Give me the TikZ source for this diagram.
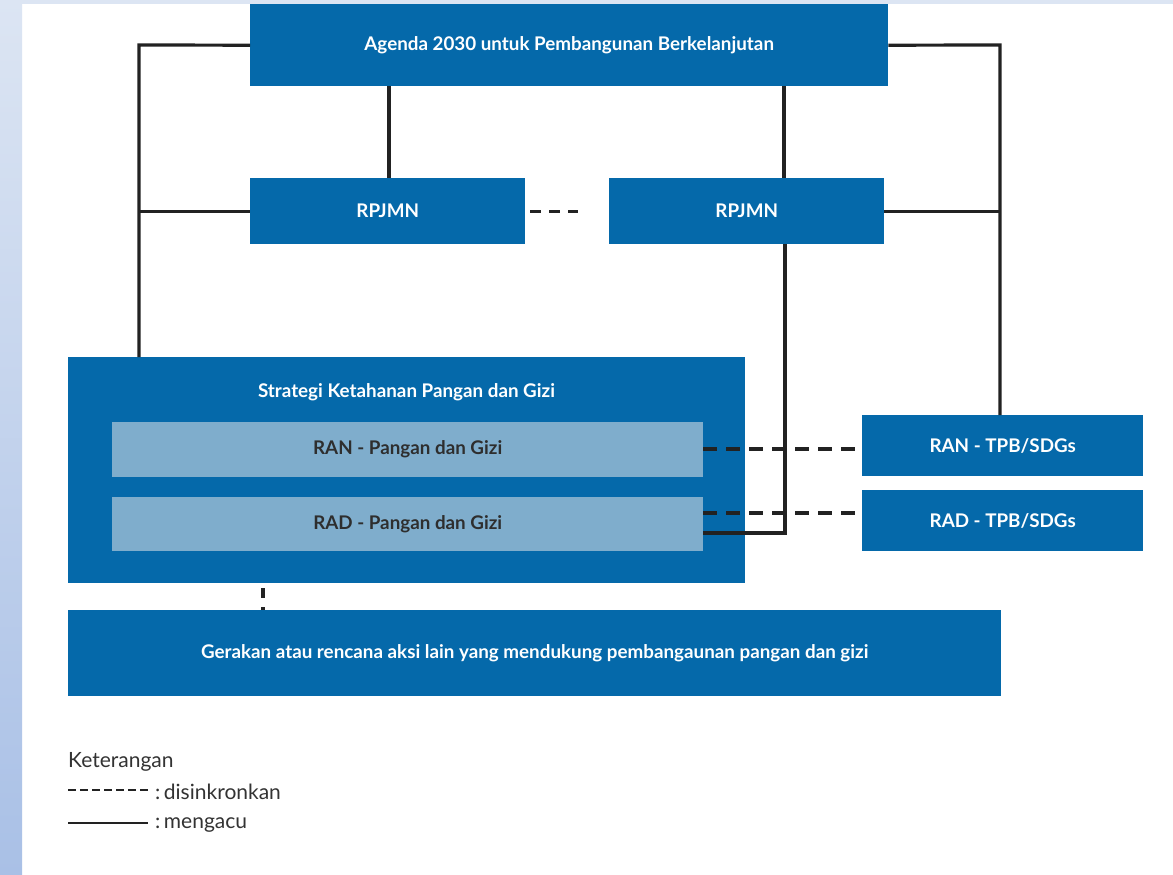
\documentclass[tikz,border=0pt]{standalone}
\usepackage{fontspec}
\setmainfont{Lato}
\usetikzlibrary{calc}
\definecolor{mainblue}{HTML}{0569AA}
\definecolor{paleblue}{HTML}{7FADCC}
\definecolor{inkline}{HTML}{222222}
\definecolor{frametop}{HTML}{DCE5F3}
\definecolor{framebot}{HTML}{A9C0E6}
\tikzset{
  box/.style={fill=mainblue, text=white, font=\fontsize{18.8}{22}\selectfont\bfseries,
    anchor=north west, inner sep=0pt, align=center},
  subbox/.style={fill=paleblue, text=black!82, font=\fontsize{18.8}{22}\selectfont\bfseries,
    anchor=north west, inner sep=0pt, align=center},
  ln/.style={draw=inkline, line width=3.2pt},
  sync/.style={draw=inkline, line width=3.2pt, dash pattern=on 14pt off 9pt},
  legend/.style={anchor=west, inner sep=0pt, font=\fontsize{21}{24}\selectfont, text=black!80}
}
\begin{document}
\begin{tikzpicture}[x=1pt,y=-1pt]
\useasboundingbox (0,0) rectangle (1173,875);
% page background with light frame
\fill[white] (0,0) rectangle (1173,875);
\fill[frametop] (0,0) rectangle (1173,4);
\shade[top color=frametop, bottom color=framebot] (0,0) rectangle (22,875);

% boxes
\node[box, minimum width=638pt, minimum height=82pt] (agenda) at (250,4) {Agenda 2030 untuk Pembangunan Berkelanjutan};
\node[box, minimum width=275pt, minimum height=66pt] (rp1) at (250,178) {RPJMN};
\node[box, minimum width=275pt, minimum height=66pt] (rp2) at (609,178) {RPJMN};
\node[box, minimum width=677pt, minimum height=226pt] (strat) at (68,357) {};
\node[text=white, font=\fontsize{18.8}{22}\selectfont\bfseries, inner sep=0pt] (strattitle) at (406.5,392) {Strategi Ketahanan Pangan dan Gizi};
\node[subbox, minimum width=591pt, minimum height=55pt] (ranP) at (112,422) {RAN - Pangan dan Gizi};
\node[subbox, minimum width=591pt, minimum height=54pt] (radP) at (112,497) {RAD - Pangan dan Gizi};
\node[box, minimum width=281pt, minimum height=61pt] (ranT) at (862,415) {RAN - TPB/SDGs};
\node[box, minimum width=281pt, minimum height=61pt] (radT) at (862,490) {RAD - TPB/SDGs};
\node[box, minimum width=933pt, minimum height=86pt] (gerak) at (68,610) {Gerakan atau rencana aksi lain yang mendukung pembangaunan pangan dan gizi};

% connector bends
\coordinate (lx) at (139,45);
\coordinate (rx) at (1000,45);
\coordinate (ax) at (784,0);
\coordinate (jx) at (785,533);
\coordinate (d1) at (703,449);
\coordinate (d2) at (703,513);
\coordinate (gx) at (263,0);

% references (solid)
\draw[ln] (agenda.west) -- (lx) -- (lx |- strat.north);
\draw[ln] (lx |- rp1.west) -- (rp1.west);
\draw[ln] (rp1.north -| 389,0) -- (agenda.south -| 389,0);
\draw[ln] (agenda.south -| ax) -- (rp2.north -| ax);
\draw[ln] (agenda.east) -- (rx) -- (rx |- ranT.north);
\draw[ln] (rp2.east) -- (rx |- rp2.east);
\draw[ln] (rp2.south -| jx) -- (jx) -- (jx -| radP.east);

% synchronisation (dashed)
\draw[sync, dash pattern=on 11pt off 8pt] (rp1.east) ++(5,0) -- ($(rp2.west)+(-31,0)$);
\draw[sync] (d1) -- (d1 -| ranT.west);
\draw[sync] (d2) -- (d2 -| radT.west);
\draw[sync, dash pattern=on 10pt off 9pt, dash phase=-5pt] (strat.south -| gx) -- (gerak.north -| gx);

% legend
\node[legend] (ket) at (68,762) {Keterangan};
\coordinate (l1a) at (68,790);
\coordinate (l1b) at (148,790);
\coordinate (l2a) at (68,823);
\coordinate (l2b) at (148,823);
\draw[draw=inkline, line width=2pt, dash pattern=on 8pt off 4pt] (l1a) -- (l1b);
\draw[draw=inkline, line width=2pt] (l2a) -- (l2b);
\node[legend] (lsync) at (155,792) {:\,disinkronkan};
\node[legend] (lref) at (155,825) {:\,mengacu};
\end{tikzpicture}
\end{document}
